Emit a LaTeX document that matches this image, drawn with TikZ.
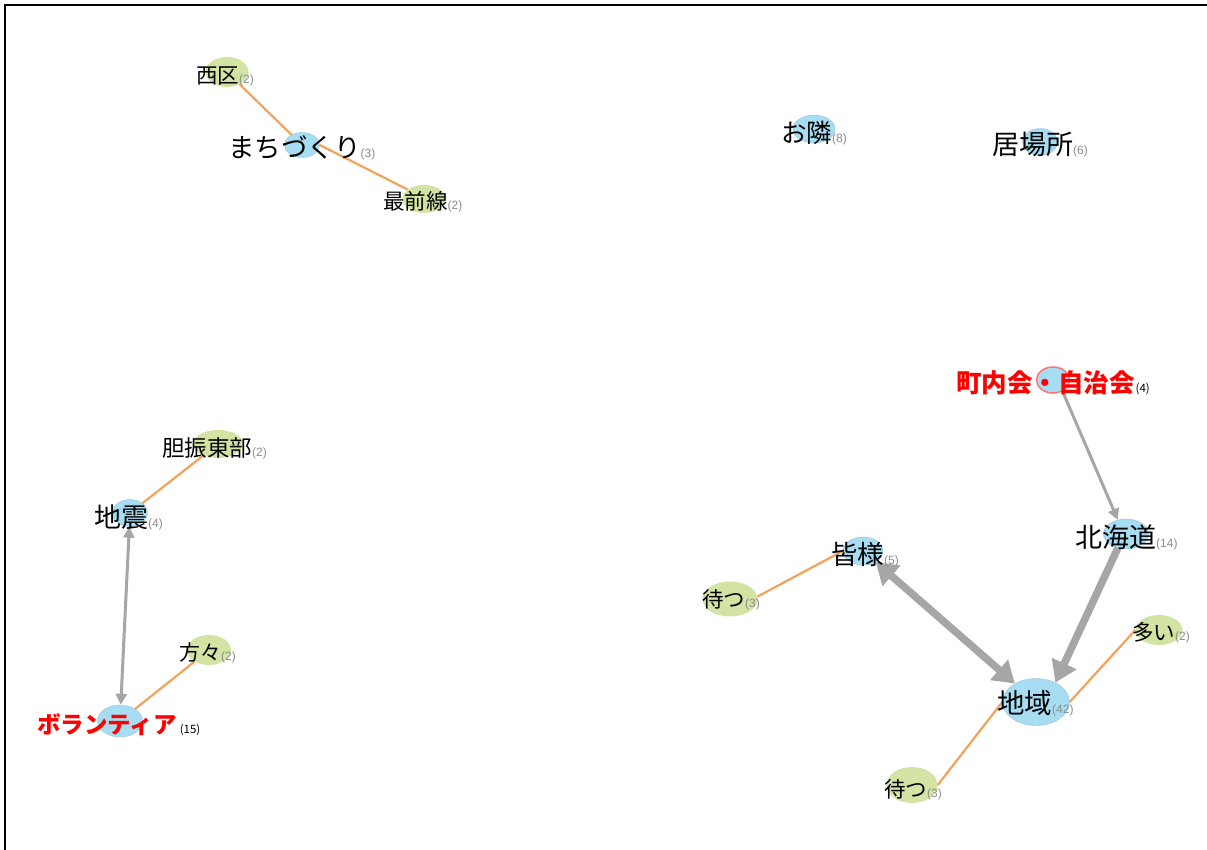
\documentclass[tikz,border=0pt]{standalone}
\usepackage{fontspec}
\setmainfont{Liberation Sans}
\newfontfamily\jp{Noto Sans CJK JP}
\usetikzlibrary{arrows.meta,shapes.geometric}

\definecolor{kwblue}{HTML}{A6DDF2}
\definecolor{kwgreen}{HTML}{D3E3A3}
\definecolor{edgeorange}{HTML}{F4A25A}
\definecolor{arrowgray}{HTML}{A6A6A6}
\definecolor{cntgray}{HTML}{8C8C8C}

% word label and its frequency
\newcommand\kw[2]{{\jp\fontsize{#1}{#1}\selectfont #2}}
\newcommand\cnt[1]{{\fontsize{12}{12}\selectfont\color{cntgray}#1}}
\newcommand\rcnt[1]{{\jp\fontsize{11.5}{12}\selectfont\color{black}#1}}

\begin{document}
\begin{tikzpicture}[x=1pt,y=-1pt,
    hubnode/.style={ellipse,fill=kwblue,draw=kwblue!85!black!90,line width=0.4pt,inner sep=0},
    leafnode/.style={ellipse,fill=kwgreen,inner sep=0},
    lbl/.style={anchor=west,inner sep=0},
    cooc/.style={draw=edgeorange,line width=2.2pt},
    thinarrow/.style={draw=arrowgray,line width=3pt,-{Triangle[length=11pt,width=11pt]}},
    thickarrow/.style={draw=arrowgray,line width=7.5pt,-{Triangle[length=21pt,width=26pt]}}]
    \useasboundingbox (0,0) rectangle (1207,850);

    % frame
    \draw[line width=2pt] (4.5,850) |- (1207,5.5);

    % ellipses
    \node[leafnode,minimum width=43,minimum height=30] (nishiku) at (227,72) {};
    \node[hubnode,minimum width=35,minimum height=25] (machi) at (302,145) {};
    \node[leafnode,minimum width=43,minimum height=28] (saizen) at (424,199) {};
    \node[hubnode,minimum width=42,minimum height=28] (otonari) at (814,129) {};
    \node[hubnode,minimum width=35,minimum height=27] (ibasho) at (1040,142) {};
    \node[hubnode,draw=red!55,line width=1.5pt,minimum width=33,minimum height=26] (chounai) at (1053,380) {};
    \node[hubnode,minimum width=45,minimum height=30] (hokkaido) at (1126,534) {};
    \node[leafnode,minimum width=50,minimum height=28] (iburi) at (218,444) {};
    \node[hubnode,minimum width=35,minimum height=27] (jishin) at (130,513) {};
    \node[leafnode,minimum width=44,minimum height=30] (katagata) at (209,650) {};
    \node[hubnode,minimum width=45,minimum height=32] (volunteer) at (120,721) {};
    \node[hubnode,minimum width=40,minimum height=28] (minasama) at (863,551) {};
    \node[leafnode,minimum width=55,minimum height=35] (matsuA) at (730,599) {};
    \node[hubnode,minimum width=67,minimum height=47] (chiiki) at (1036,702) {};
    \node[leafnode,minimum width=47,minimum height=30] (ooi) at (1159,630) {};
    \node[leafnode,minimum width=51,minimum height=36] (matsuB) at (912,785) {};

    % co-occurrence
    \draw[cooc] (nishiku) -- (machi);
    \draw[cooc] (machi.east) -- (saizen.150);
    \draw[cooc] (jishin) -- (iburi);
    \draw[cooc] (volunteer) -- (katagata);
    \draw[cooc] (matsuA.5) -- (minasama.west);
    \draw[cooc] (chiiki.east) -- (ooi.west);
    \draw[cooc] (chiiki.west) -- (matsuB.east);

    % directed links
    \draw[thinarrow] (chounai.-50) -- (hokkaido.120);
    \draw[thinarrow,{Triangle[length=11pt,width=11pt]}-{Triangle[length=11pt,width=11pt]}] (jishin) -- (volunteer);
    \draw[thickarrow,{Triangle[length=21pt,width=26pt]}-{Triangle[length=21pt,width=26pt]}] (minasama) -- (chiiki);
    \draw[thickarrow] (hokkaido.240) -- (chiiki.45);

    % words
    \node[lbl] (lnishiku) at (196,76) {\kw{21.5}{西区}\cnt{(2)}};
    \node[lbl] (lmachi) at (228,148) {\kw{26.5}{まちづくり}\cnt{(3)}};
    \node[lbl] (lsaizen) at (383,202) {\kw{21.5}{最前線}\cnt{(2)}};
    \node[lbl] (lotonari) at (781,133) {\kw{25.5}{お隣}\cnt{(8)}};
    \node[lbl] (libasho) at (992,145) {\kw{27}{居場所}\cnt{(6)}};
    \node[lbl,text=red] (lchounai) at (956,383) {\kw{25.5}{\bfseries 町内会・自治会}\hspace{1pt}\rcnt{(4)}};
    \node[lbl] (lhokkaido) at (1075,537) {\kw{27}{北海道}\cnt{(14)}};
    \node[lbl] (liburi) at (162,448) {\kw{22.5}{胆振東部}\cnt{(2)}};
    \node[lbl] (ljishin) at (94,517) {\kw{27}{地震}\cnt{(4)}};
    \node[lbl] (lkatagata) at (179,653) {\kw{21}{方々}\cnt{(2)}};
    \node[lbl,text=red] (lvolunteer) at (37,725) {\kw{23.5}{\bfseries ボランティア}\hspace{3pt}\rcnt{(15)}};
    \node[lbl] (lminasama) at (831,555) {\kw{26.5}{皆様}\cnt{(5)}};
    \node[lbl] (lmatsuA) at (702,600) {\kw{21.5}{待つ}\cnt{(3)}};
    \node[lbl] (lchiiki) at (997,703) {\kw{27.5}{地域}\cnt{(42)}};
    \node[lbl] (looi) at (1132,633) {\kw{21.5}{多い}\cnt{(2)}};
    \node[lbl] (lmatsuB) at (884,790) {\kw{21.5}{待つ}\cnt{(3)}};
\end{tikzpicture}
\end{document}
